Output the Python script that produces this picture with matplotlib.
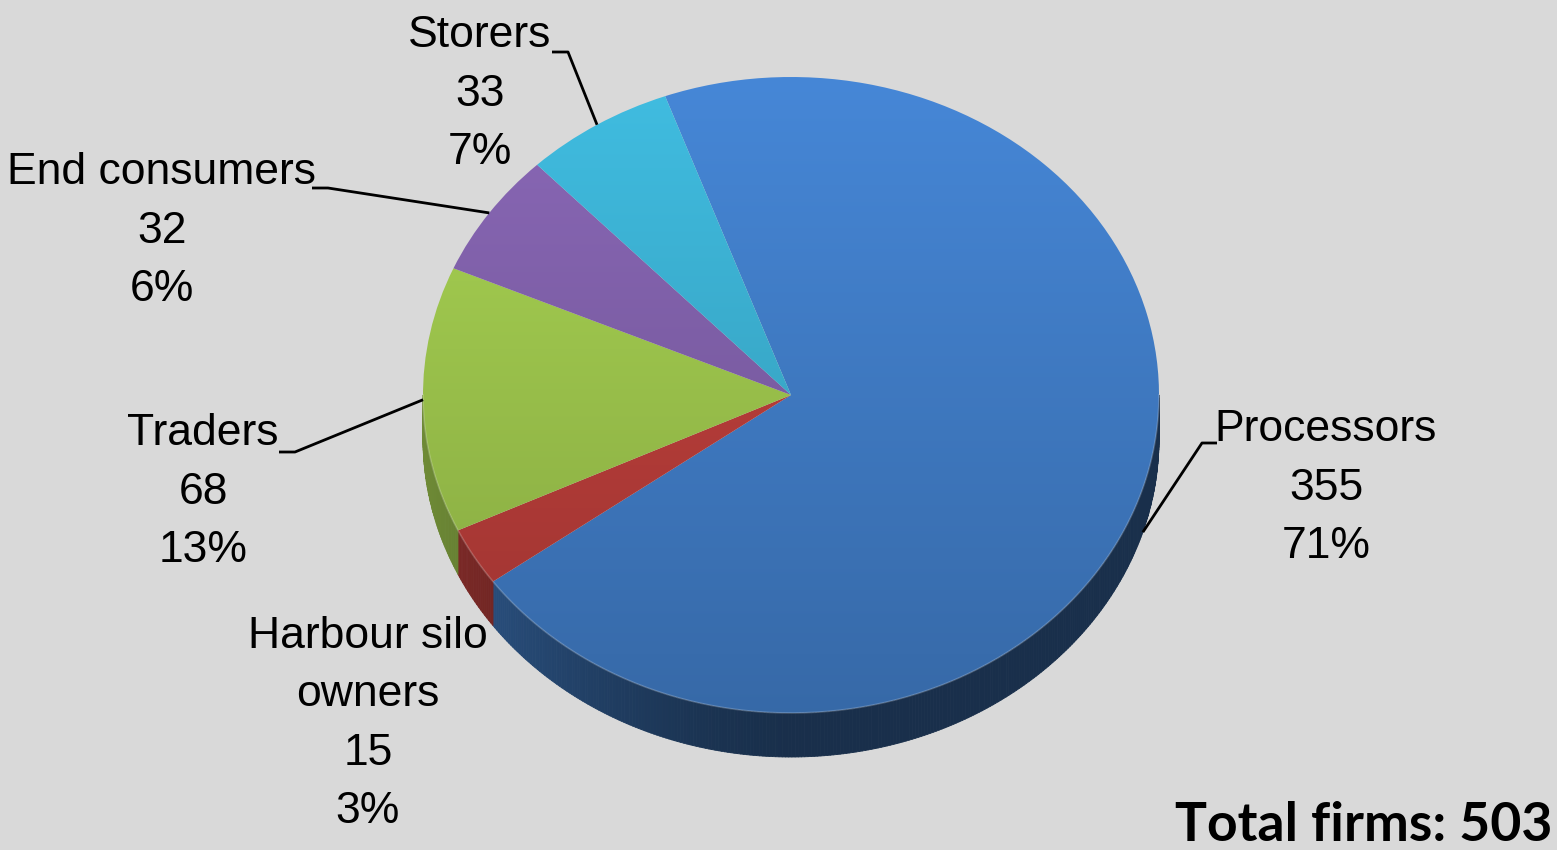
import matplotlib

matplotlib.use("Agg")
import matplotlib.pyplot as plt
import numpy as np
from matplotlib import font_manager
from matplotlib.collections import PolyCollection
from matplotlib.colors import to_rgb
from matplotlib.transforms import Affine2D

categories = ["Processors", "Harbour silo\nowners", "Traders", "End consumers", "Storers"]
firms = [355, 15, 68, 32, 33]
pct_labels = ["71%", "3%", "13%", "6%", "7%"]
total_label = "Total firms: 503"

colors = ["#4687D7", "#C9433F", "#AAD553", "#8A68B7", "#40BDE1"]

# label block centres and leader-line elbows, in pixel units
label_pos = [(1326, 488), (368, 724), (203, 492), (162, 231), (480, 94)]
leader_elbow = [((1202, 443), (1217, 443)), None, ((295, 452), (279, 452)),
                ((328, 188), (312, 188)), ((568, 52), (552, 52))]

W, H = 1557, 850
CX, CY, RX, RY, DEPTH = 791, 395, 368, 318, 44
BG = "#D9D9D9"

# narrow Arial-like face if there is one, plain Liberation Sans otherwise
label_fp = font_manager.FontProperties(family="Liberation Sans", stretch="condensed")
narrow = "Narrow" in font_manager.findfont(label_fp)
LABEL_SIZE = 36 if narrow else 32
LABEL_SPACING = 1.36 if narrow else 1.55

fig = plt.figure(figsize=(W / 100, H / 100), dpi=100, facecolor=BG)
ax = fig.add_axes([0, 0, 1, 1])
ax.set_facecolor(BG)

wedges, _ = ax.pie(firms, startangle=110, counterclock=False,
                   wedgeprops=dict(facecolor="none", edgecolor="none"))

# squash the unit pie into a tilted ellipse in pixel space
to_px = Affine2D().scale(RX, -RY).translate(CX, CY) + ax.transData
for w in wedges:
    w.set_transform(to_px)
    w.set_zorder(3)


def ell(t):
    t = np.radians(t)
    return CX + RX * np.cos(t), CY - RY * np.sin(t)


# side wall: only the front half (sin < 0) is visible
for w, c in zip(wedges, colors):
    base = np.array(to_rgb(c))
    polys, fcs = [], []
    for k in (-1, 0, 1):
        lo, hi = max(w.theta1, -180 + 360 * k), min(w.theta2, 360 * k)
        if hi <= lo:
            continue
        ts = np.linspace(lo, hi, max(2, int(hi - lo) * 2))
        for t0, t1 in zip(ts[:-1], ts[1:]):
            x0, y0 = ell(t0)
            x1, y1 = ell(t1)
            polys.append([(x0, y0), (x1, y1), (x1, y1 + DEPTH), (x0, y0 + DEPTH)])
            cm = -np.cos(np.radians((t0 + t1) / 2))
            f = 0.35 + 0.3 * max(0.0, cm) ** 1.5
            fcs.append(np.clip(base * f, 0, 1))
    if polys:
        ax.add_collection(PolyCollection(polys, facecolors=fcs, edgecolors=fcs,
                                         linewidths=0.6, zorder=1))

# top face with a soft vertical gradient, clipped to each wedge
shade = 1.0 - 0.22 * np.linspace(0, 1, 256)
for w, c in zip(wedges, colors):
    img = np.clip(np.array(to_rgb(c))[None, None, :] * shade[:, None, None], 0, 1)
    im = ax.imshow(img, extent=(CX - RX, CX + RX, CY + RY, CY - RY),
                   aspect="auto", interpolation="bilinear", zorder=2)
    im.set_clip_path(w)

# light rim along the front edge
tr = np.linspace(-180, 0, 300)
rx_, ry_ = ell(tr)
ax.plot(rx_, ry_, color="white", alpha=0.2, lw=1.2, zorder=4)

for w, cat, n, pct, pos, elbow in zip(wedges, categories, firms, pct_labels,
                                      label_pos, leader_elbow):
    ax.text(pos[0], pos[1], f"{cat}\n{n}\n{pct}", ha="center", va="center",
            multialignment="center", fontsize=LABEL_SIZE,
            family="Liberation Sans", fontstretch="condensed",
            linespacing=LABEL_SPACING, color="black", zorder=6)
    if elbow is None:
        continue
    mid = (w.theta1 + w.theta2) / 2
    ax_, ay_ = ell(mid)
    if np.sin(np.radians(mid)) < -0.2:
        ay_ += DEPTH
    ax.plot([ax_, elbow[0][0], elbow[1][0]], [ay_, elbow[0][1], elbow[1][1]],
            color="black", lw=2, zorder=5, solid_capstyle="butt")

ax.text(1552, 841, total_label, ha="right", va="baseline", fontsize=38.5,
        family="Lato", fontweight="bold", color="black", zorder=6)

ax.set_xlim(0, W)
ax.set_ylim(H, 0)
ax.set_aspect("auto")
ax.axis("off")

fig.savefig("out.png", dpi=100, facecolor=BG)
